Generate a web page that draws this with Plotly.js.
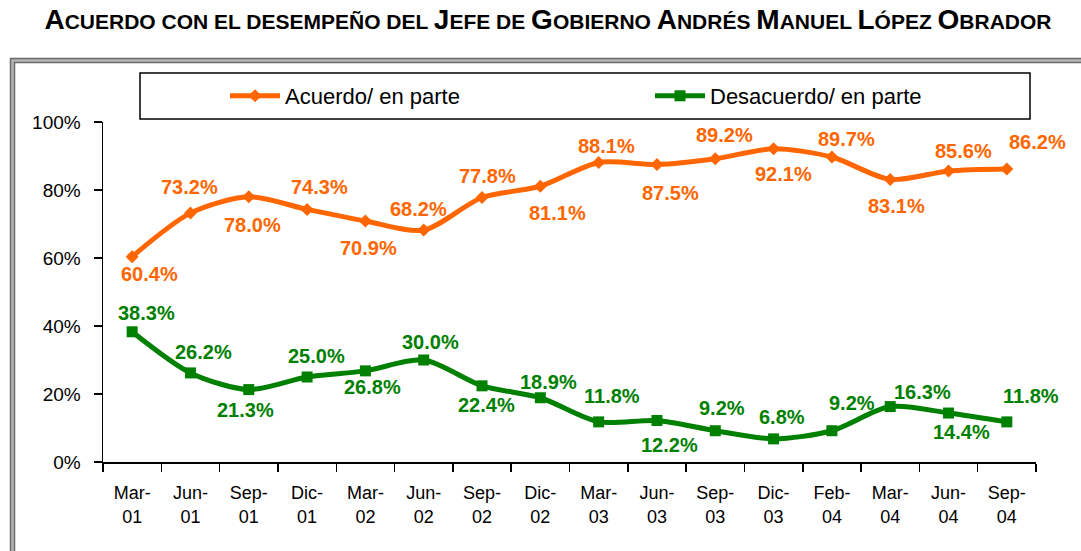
<!DOCTYPE html>
<html>
<head>
<meta charset="utf-8">
<script src="https://cdn.plot.ly/plotly-3.0.1.min.js"></script>
<style>
html,body{margin:0;padding:0;background:#fff;}
#chart{width:1081px;height:551px;}
</style>
</head>
<body>
<div id="chart"></div>
<script>
// ---- data ----
var categories = ["Mar-<br>01","Jun-<br>01","Sep-<br>01","Dic-<br>01","Mar-<br>02","Jun-<br>02","Sep-<br>02","Dic-<br>02",
                  "Mar-<br>03","Jun-<br>03","Sep-<br>03","Dic-<br>03","Feb-<br>04","Mar-<br>04","Jun-<br>04","Sep-<br>04"];
var acuerdo    = [60.4, 73.2, 78.0, 74.3, 70.9, 68.2, 77.8, 81.1, 88.1, 87.5, 89.2, 92.1, 89.7, 83.1, 85.6, 86.2];
var desacuerdo = [38.3, 26.2, 21.3, 25.0, 26.8, 30.0, 22.4, 18.9, 11.8, 12.2, 9.2, 6.8, 9.2, 16.3, 14.4, 11.8];
var seriesNames = ["Acuerdo/ en parte", "Desacuerdo/ en parte"];
var yTickVals = [0, 20, 40, 60, 80, 100];
var yTickText = ["0%", "20%", "40%", "60%", "80%", "100%"];

// ---- label nudges (pixels: [dx, dy], dy positive = down) ----
var acuerdoNudge = [[17,17],[-1,-26],[4,28],[12,-22],[3,27],[-5,-21],[5,-21],[17,27],
                    [8,-16],[14,28],[9,-24],[10,25],[15,-18],[6,27],[15,-20],[31,-27]];
var desacNudge   = [[14,-19],[13,-21],[-3,20],[9,-21],[7,16],[7,-18],[4,19],[8,-16],
                    [13,-26],[13,24],[7,-23],[8,-22],[20,-28],[32,-15],[13,19],[24,-26]];

var ORANGE = "#FF6600", GREEN = "#008000";
var FONT = "Arial, 'Liberation Sans', sans-serif";

var traces = [
  {x: categories, y: acuerdo, name: seriesNames[0], type: "scatter", mode: "lines+markers", legend: "legend",
   line: {color: ORANGE, width: 5, shape: "spline", smoothing: 0.8},
   marker: {color: ORANGE, symbol: "diamond", size: 10}},
  {x: categories, y: desacuerdo, name: seriesNames[1], type: "scatter", mode: "lines+markers", legend: "legend2",
   line: {color: GREEN, width: 5, shape: "spline", smoothing: 0.8},
   marker: {color: GREEN, symbol: "square", size: 11}}
];

function labels(xs, ys, nudge, color) {
  return ys.map(function (v, i) {
    return {x: xs[i], y: v, xref: "x", yref: "y", text: v.toFixed(1) + "%", showarrow: false,
      xanchor: "center", yanchor: "middle", xshift: nudge[i][0], yshift: -nudge[i][1],
      font: {family: FONT, size: 20, color: color, weight: "bold"}};
  });
}
var annotations = labels(categories, acuerdo, acuerdoNudge, ORANGE)
  .concat(labels(categories, desacuerdo, desacNudge, GREEN));

// pixel -> paper helpers for frame/legend box (plot area 103..1036 x, 122..462 y)
var L = 103, R = 1036, T = 122, B = 462;
function px(x) { return (x - L) / (R - L); }
function py(y) { return (B - y) / (B - T); }

var big = function (c) { return "<span style='font-size:28px'>" + c + "</span>"; };
var titleText = big("A") + "CUERDO CON EL DESEMPEÑO DEL " + big("J") + "EFE DE " + big("G") + "OBIERNO " +
                big("A") + "NDRÉS " + big("M") + "ANUEL " + big("L") + "ÓPEZ " + big("O") + "BRADOR";

function legendCfg(xpix) {
  return {orientation: "h", x: px(xpix), xanchor: "left", y: py(96), yanchor: "middle",
          bgcolor: "rgba(0,0,0,0)", borderwidth: 0, font: {family: FONT, size: 22, color: "#000"},
          itemwidth: 50, itemclick: false, itemdoubleclick: false};
}

var layout = {
  width: 1081, height: 551,
  margin: {l: L, r: 1081 - R, t: T, b: 551 - B, pad: 0},
  paper_bgcolor: "#ffffff", plot_bgcolor: "rgba(0,0,0,0)",
  font: {family: FONT, color: "#000"},
  showlegend: true,
  title: {text: titleText, font: {family: FONT, size: 21, color: "#000", weight: "bold"},
          x: 548 / 1081, xanchor: "center", xref: "container", y: 1 - 22 / 551, yanchor: "middle", yref: "container"},
  xaxis: {type: "category", showgrid: false, zeroline: false, showline: true, linecolor: "#000", linewidth: 1.5,
          ticks: "outside", ticklen: 8, tickcolor: "#000", tickwidth: 1.5, tickson: "boundaries",
          tickfont: {family: FONT, size: 18, color: "#000"}, ticklabelstandoff: 14,
          range: [-0.5, categories.length - 0.5], fixedrange: true},
  yaxis: {range: [0, 100], tickvals: yTickVals, ticktext: yTickText, showgrid: false, zeroline: false,
          showline: true, linecolor: "#000", linewidth: 1.5, ticks: "outside", ticklen: 8, tickcolor: "#000",
          tickwidth: 1.5, tickfont: {family: FONT, size: 19, color: "#000"}, ticklabelstandoff: 9, fixedrange: true},
  legend: legendCfg(225),
  legend2: legendCfg(650),
  annotations: annotations,
  shapes: [
    // outer chart frame (double grey border)
    {type: "rect", xref: "paper", yref: "paper", x0: px(12.3), x1: px(1100), y0: py(60.3), y1: py(580),
     line: {color: "#b4b4b4", width: 4}, fillcolor: "rgba(0,0,0,0)", layer: "below"},
    {type: "rect", xref: "paper", yref: "paper", x0: px(10.5), x1: px(1100), y0: py(58.5), y1: py(580),
     line: {color: "#6a6a6a", width: 1.5}, fillcolor: "rgba(0,0,0,0)", layer: "below"},
    {type: "rect", xref: "paper", yref: "paper", x0: px(14.5), x1: px(1100), y0: py(62.5), y1: py(580),
     line: {color: "#6a6a6a", width: 1.5}, fillcolor: "rgba(0,0,0,0)", layer: "below"},
    // legend box
    {type: "rect", xref: "paper", yref: "paper", x0: px(140), x1: px(1030), y0: py(119), y1: py(73),
     line: {color: "#000", width: 1.5}, fillcolor: "rgba(0,0,0,0)", layer: "below"}
  ]
};

Plotly.newPlot("chart", traces, layout, {displayModeBar: false, staticPlot: true});
</script>
</body>
</html>
